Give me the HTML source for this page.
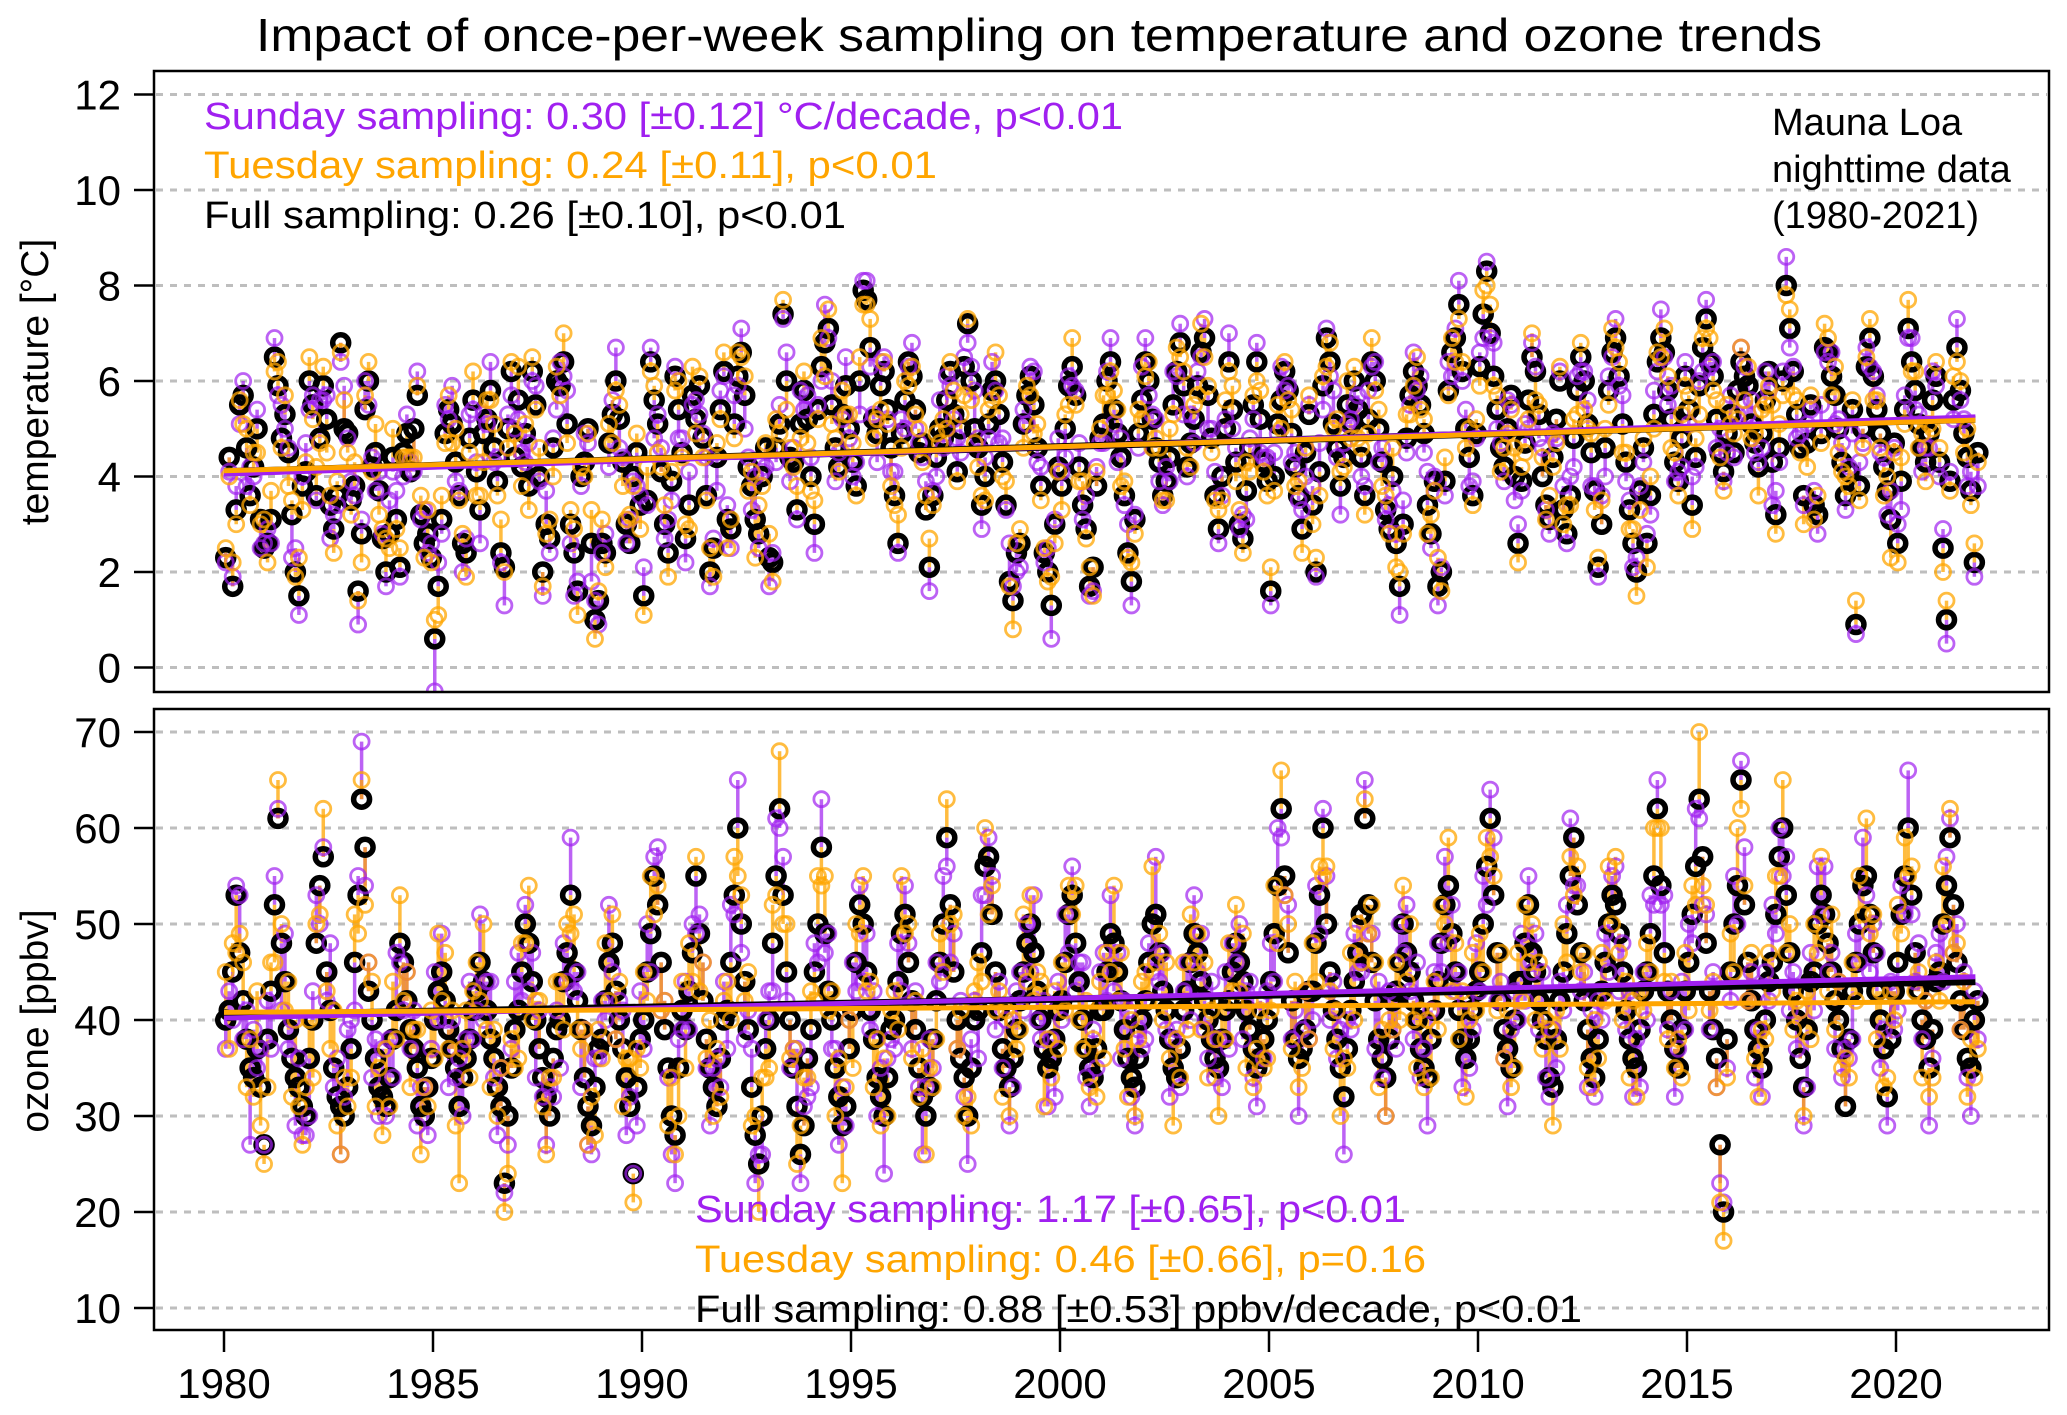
<!DOCTYPE html>
<html><head><meta charset="utf-8"><title>Impact of once-per-week sampling</title>
<style>html,body{margin:0;padding:0;background:#fff}svg{display:block;font-family:"Liberation Sans",Arial,sans-serif}</style>
</head><body>
<svg id="chart" width="2067" height="1415" viewBox="0 0 2067 1415" xmlns="http://www.w3.org/2000/svg">
<defs>
<clipPath id="clipT"><rect x="154" y="71" width="1895" height="621"/></clipPath>
<clipPath id="clipO"><rect x="154" y="709" width="1895" height="621"/></clipPath>
</defs>
<rect width="2067" height="1415" fill="#fff"/>
<text x="1039" y="51" font-size="46" text-anchor="middle" textLength="1566" lengthAdjust="spacingAndGlyphs">Impact of once-per-week sampling on temperature and ozone trends</text>
<g id="gridT"></g>
<g id="gridO"></g>
<g id="marksT" clip-path="url(#clipT)"></g>
<g id="marksO" clip-path="url(#clipO)"></g>
<rect x="154" y="71" width="1895" height="621" fill="none" stroke="#000" stroke-width="2.5"/>
<rect x="154" y="709" width="1895" height="621" fill="none" stroke="#000" stroke-width="2.5"/>
<g id="axes"></g>
<text transform="translate(48,382) rotate(-90)" font-size="39" text-anchor="middle">temperature [°C]</text>
<text transform="translate(48,1021) rotate(-90)" font-size="39" text-anchor="middle">ozone [ppbv]</text>
<g font-size="38">
<text x="204" y="129" fill="#a020f0" textLength="919" lengthAdjust="spacingAndGlyphs">Sunday sampling: 0.30 [±0.12] °C/decade, p&lt;0.01</text>
<text x="204" y="178" fill="#ffa500" textLength="733" lengthAdjust="spacingAndGlyphs">Tuesday sampling: 0.24 [±0.11], p&lt;0.01</text>
<text x="204" y="228" fill="#000" textLength="642" lengthAdjust="spacingAndGlyphs">Full sampling: 0.26 [±0.10], p&lt;0.01</text>
</g>
<g font-size="38">
<text x="1772" y="135">Mauna Loa</text>
<text x="1772" y="182">nighttime data</text>
<text x="1772" y="228">(1980-2021)</text>
</g>
<g font-size="38">
<text x="695" y="1222" fill="#a020f0" textLength="711" lengthAdjust="spacingAndGlyphs">Sunday sampling: 1.17 [±0.65], p&lt;0.01</text>
<text x="695" y="1272" fill="#ffa500" textLength="731" lengthAdjust="spacingAndGlyphs">Tuesday sampling: 0.46 [±0.66], p=0.16</text>
<text x="695" y="1322" fill="#000" textLength="887" lengthAdjust="spacingAndGlyphs">Full sampling: 0.88 [±0.53] ppbv/decade, p&lt;0.01</text>
</g>
</svg>
<script>
const xTicks=[1980,1985,1990,1995,2000,2005,2010,2015,2020];
const tempTicks=[0,2,4,6,8,10,12];
const ozoneTicks=[10,20,30,40,50,60,70];
const startYear=1980;
const tempFull=[
2.3,4.4,1.7,3.3,5.5,5.7,4.6,3.6,4.2,5.0,3.1,2.5,
2.6,3.1,6.5,5.9,4.8,5.3,4.5,3.2,2.0,1.5,3.8,4.1,
6.0,5.5,3.6,4.8,5.9,5.2,3.4,2.9,3.6,6.8,5.0,4.9,
3.5,3.8,1.6,2.8,5.4,6.0,4.2,4.5,3.7,2.7,2.0,2.8,
4.4,3.1,2.1,4.5,4.9,4.1,5.0,5.7,3.2,2.6,2.8,2.3,
0.6,1.7,3.1,4.9,5.4,5.1,4.3,3.6,2.6,2.4,4.8,5.6,
4.1,3.3,4.9,5.2,5.8,4.6,3.9,2.4,2.1,5.0,6.2,4.4,
5.6,4.2,4.9,3.8,6.2,5.5,4.0,2.0,3.0,2.7,4.6,6.0,
5.9,6.4,5.1,3.0,2.4,1.6,4.0,4.3,5.0,2.6,1.0,1.4,
2.6,2.4,4.7,5.3,6.0,5.2,4.3,3.0,2.6,4.0,4.5,3.4,
1.5,3.5,6.4,5.6,5.1,4.1,3.0,2.4,3.9,6.1,5.4,4.5,
2.7,3.4,5.7,5.2,5.9,4.8,3.6,2.0,2.5,4.4,5.4,6.2,
3.1,2.9,5.1,6.1,6.6,5.7,4.2,3.8,3.1,2.8,4.0,4.6,
2.3,2.2,4.6,5.1,7.4,6.0,4.4,4.3,3.3,5.1,5.8,5.2,
4.0,3.0,5.4,6.3,6.8,7.1,5.5,4.6,4.2,5.3,5.9,5.0,
4.3,3.8,6.0,7.9,7.7,6.7,5.2,4.9,5.9,6.2,5.4,4.6,
3.6,2.6,4.9,5.6,6.4,6.1,5.4,4.5,4.7,3.3,2.1,3.6,
4.4,5.0,4.8,5.6,6.2,5.3,4.1,5.0,6.3,7.2,6.0,5.0,
4.6,3.4,4.0,5.1,5.8,6.0,5.3,4.3,3.4,1.8,1.4,2.4,
2.6,5.1,5.7,6.1,5.5,4.6,3.8,2.4,2.0,1.3,3.0,4.2,
3.8,5.0,5.9,6.3,5.7,4.2,3.4,2.9,1.7,2.1,3.8,4.8,
5.1,6.0,6.4,5.4,4.9,4.4,3.6,2.4,1.8,3.1,4.9,5.6,
6.4,6.0,5.2,4.6,4.3,3.6,3.9,4.4,5.5,6.2,6.8,5.9,
4.2,4.7,5.2,5.9,6.6,6.9,5.7,4.8,3.6,2.9,4.0,5.0,
6.4,5.4,4.3,3.0,2.7,3.7,4.6,5.5,6.4,5.2,4.3,3.9,
1.6,4.0,5.1,5.6,6.2,5.8,4.9,4.2,3.6,2.9,4.5,5.3,
3.4,2.0,4.1,5.9,6.9,6.4,5.1,4.6,3.8,4.4,5.5,5.1,
6.0,5.4,4.4,3.6,5.2,6.4,6.0,5.0,4.3,3.3,2.9,4.0,
2.6,1.7,3.0,4.8,5.7,6.2,5.9,5.5,4.9,3.4,2.8,3.9,
1.7,2.0,3.9,5.8,6.6,6.9,7.6,6.2,5.0,4.4,3.6,4.9,
6.3,7.4,8.3,7.0,6.1,5.4,4.6,4.2,5.0,5.7,4.0,2.6,
3.9,4.7,5.6,6.5,6.2,5.3,4.0,3.4,3.1,4.4,5.2,6.0,
3.3,2.8,3.6,4.8,5.8,6.5,6.0,5.1,4.5,3.7,2.1,3.0,
4.6,5.8,6.6,6.9,6.1,5.1,4.3,3.3,2.6,2.0,3.7,4.6,
2.6,3.6,5.3,6.4,6.9,6.6,5.8,5.2,4.3,3.9,4.8,6.1,
5.4,3.4,4.4,5.9,6.7,7.3,6.4,6.1,5.2,4.5,4.1,4.9,
5.3,4.5,5.8,6.4,6.1,5.9,5.1,4.7,4.2,4.9,5.6,6.2,
4.3,3.2,4.6,6.0,8.0,7.1,6.2,5.3,4.6,3.6,4.7,5.5,
3.4,3.2,4.9,6.7,6.6,6.1,5.7,5.0,4.3,3.6,4.1,5.4,
0.9,3.8,5.0,6.3,6.9,6.1,5.4,4.9,4.2,3.7,3.1,4.7,
2.6,3.9,5.4,7.1,6.4,5.8,5.1,4.6,4.3,4.9,5.6,6.1,
4.3,2.5,1.0,3.9,5.6,6.7,5.8,4.9,4.4,3.7,2.2,4.5];
const tempSundayDev=[
-1,-3,2,5,-4,3,-8,6,-2,4,-6,1, 3,-5,4,-2,7,-3,1,-9,5,-4,2,6, -6,2,-1,8,-3,5,-7,3,-2,-4,9,-1,
4,-2,-7,3,6,-5,2,-8,4,1,-3,7, -3,6,-2,-5,4,2,-9,5,-1,7,-4,3, -11,5,-3,6,-2,8,-4,1,-6,3,5,-2,
2,-7,4,-1,6,-3,5,-2,-8,3,-5,6, -4,3,-6,9,-2,4,-1,-5,7,-3,2,-6, 5,-3,7,-4,-9,2,-2,6,-3,-8,4,-5,
-2,4,-5,3,7,-6,1,-4,5,-1,-7,2, 6,-1,3,-8,2,5,-3,7,-4,2,-6,3, -5,7,-2,4,-6,1,8,-3,2,-7,4,-1,
3,-4,6,-2,5,-7,2,-5,9,-3,1,-4, -6,2,-3,4,-1,6,-5,3,-2,7,-4,5, 4,-6,1,-3,8,-2,5,-7,3,-1,6,-2,
-3,5,-7,2,4,-4,1,-6,5,3,-2,-5, 5,-2,3,-6,-1,7,-4,2,-3,6,-5,1, -4,6,-2,5,-3,-1,7,-5,2,-4,3,8,
2,-5,4,-3,6,-2,-6,5,-1,8,3,-4, -5,3,-6,2,7,-3,4,-2,5,-7,1,6, 3,-6,2,-4,1,5,-3,7,-2,-5,4,-1,
-4,2,5,-3,-6,4,-2,6,-5,1,-3,7, 5,-3,1,6,-4,-2,3,-5,7,-1,4,-6, -2,6,-5,3,-1,4,-7,2,5,-3,-4,2,
6,-4,3,-1,5,-6,2,-3,4,-7,1,5, -3,5,-2,7,-4,1,-6,3,-1,4,-5,2, 4,-1,6,-5,2,-3,7,-2,-6,3,-4,1,
-5,3,-4,2,6,-1,4,-7,3,-2,5,-3, 2,-6,5,-3,-2,4,-1,6,-4,7,-3,1, -4,1,-3,6,-5,2,5,-2,4,-6,3,-1,
3,-5,2,-1,7,-4,1,-3,6,-2,-5,4, -2,4,-6,3,1,-5,6,-1,-3,5,-4,2, 5,-2,4,-6,3,-3,2,5,-7,1,-2,6,
-6,3,-1,4,-2,6,-4,2,-5,3,1,-3, 2,-4,5,-2,6,-1,-3,7,-4,2,-6,3, -3,6,-2,1,-5,4,-1,3,-6,5,-2,-4,
4,-1,-5,3,2,-6,5,-2,1,-3,6,-4, -9,5,-3,2,6,-4,1,-5,3,-2,4,-1, 3,-4,6,-1,-2,5,-6,2,4,-3,1,-5,
-2,5,-3,4,-6,1,3,-4,2,-5,6,-1, 4,-6,3,-2,5,-4,2,-5,3,-3,6,-2, -3,4,-5,2,-4,6,-2,3,-6,4,-3,-7];
const tempTuesdayDev=[
2,-4,5,-3,1,-6,4,-2,3,-5,-1,6, -4,6,-3,5,-2,4,-7,3,-1,8,-5,2, 5,-3,6,-1,4,-7,2,-5,3,-2,6,-4,
-3,5,-2,-6,3,4,-1,6,-5,2,7,-3, 6,-2,4,-1,-5,3,-6,2,4,-3,5,-1, 4,-6,5,-2,3,-4,7,-1,2,-5,-3,6,
-5,3,-6,4,-2,5,-3,7,-1,-4,2,5, 7,-4,2,-5,3,-1,6,-3,-2,4,-6,3, -2,6,-4,3,5,-5,2,-3,-1,7,-4,2,
5,-3,4,-6,-2,3,-5,1,6,-2,4,-5, -4,7,-2,3,-6,1,4,-5,2,-3,6,-1, 3,-5,6,-3,2,-4,-1,5,-6,3,-2,4,
-6,2,-3,5,-1,4,-5,3,-8,6,-2,1, 5,-4,6,-2,3,-6,2,-1,5,-3,4,-5, -3,5,-2,6,-7,4,-4,2,-1,5,-6,3,
4,-2,5,-3,-1,6,-4,3,-5,2,-3,-8, -2,6,-3,4,-5,2,-1,5,-4,3,6,-2, 5,-3,4,-6,2,5,-2,3,-6,1,-4,-3,
-4,2,-5,3,-2,6,4,-3,5,-1,-6,2, 3,-5,2,-4,-6,5,-3,1,-2,6,-4,-1, -5,3,-4,6,-2,-3,5,-2,4,-6,3,2,
6,-3,-2,4,5,-6,3,-1,4,-3,5,-4, -3,4,-6,2,3,-1,-4,6,-2,5,-3,3, 4,-5,3,-2,6,-4,2,-3,-1,4,-5,6,
-2,5,-4,3,-3,6,-5,2,-4,6,-2,-3, 5,-3,4,-6,2,-2,5,-4,3,-5,1,4, -4,3,-5,2,-6,4,-1,6,3,-2,5,-3,
3,-6,2,-4,-3,5,-2,4,-5,3,-1,6, -5,3,-2,5,-4,-3,6,-1,3,-6,4,-2, 6,-4,5,-1,3,-5,-3,2,-4,6,-2,3,
-4,5,-3,6,-2,3,-5,4,-1,-3,6,-4, 3,-2,-4,5,-6,2,4,-3,5,-2,-5,3, -3,6,-2,4,-5,3,-6,-1,4,-4,2,5,
4,-3,5,-2,3,-6,2,-4,3,-5,-4,2, -5,4,-3,2,-4,5,3,-6,2,-3,5,-2, 3,-5,4,-6,2,-2,5,-3,4,-1,-4,6,
-2,4,-6,3,-5,4,-3,2,-6,5,-1,-3, 12,-4,5,-3,-2,4,-5,3,-1,-6,-5,2, -3,4,-2,5,3,-4,6,-5,-2,4,-3,2,
5,-3,-4,2,4,-5,2,-3,-6,3,-8,-2, -4,5,-3,6,-2,4,-5,3,-4,2,-6,3, 3,-5,4,-2,5,-3,2,-4,6,-3,4,-2];
const ozoneFull=[
40,41,45,53,47,42,38,35,34,37,33,27, 38,43,52,61,48,44,39,36,34,33,31,30, 36,40,48,54,57,45,41,35,32,31,30,33,
37,46,53,63,58,43,40,36,33,32,31,34, 38,41,48,46,42,39,37,35,31,30,33,36, 40,43,45,42,39,37,35,31,34,36,38,41,
43,46,44,41,38,36,33,31,23,30,35,39, 41,45,50,48,44,40,37,34,32,30,36,39, 40,44,47,53,45,42,39,34,31,29,33,37,
38,42,46,48,43,40,37,34,31,24,33,38, 40,45,49,55,52,46,39,35,30,28,35,41, 39,43,47,55,49,42,38,35,33,31,36,40,
41,46,53,60,50,44,39,33,28,25,30,37, 40,48,55,62,53,45,40,35,31,26,29,36, 39,45,50,58,49,43,40,35,32,29,31,37,
41,46,52,50,45,41,38,34,32,30,34,39, 40,44,49,51,46,42,39,35,32,30,33,38, 42,46,50,59,52,45,40,36,34,30,35,40,
41,47,56,57,51,45,41,37,35,33,36,39, 42,45,48,50,47,43,40,37,35,36,38,41, 42,46,51,53,48,44,40,37,35,34,37,41,
41,45,49,48,45,42,39,36,34,33,36,40, 42,46,50,51,47,43,41,38,35,34,37,41, 43,46,49,47,44,42,40,38,36,35,38,41,
42,45,48,46,44,41,39,37,35,36,38,40, 44,49,54,62,55,47,42,38,36,37,39,43, 43,48,53,60,50,45,41,38,35,32,37,41,
44,47,51,61,52,46,42,38,36,34,38,42, 43,46,50,47,45,42,40,37,35,34,38,41, 44,48,52,54,49,45,41,38,36,38,41,43,
45,50,56,61,53,47,42,39,37,35,40,44, 44,48,52,47,45,42,40,38,34,33,38,42, 45,49,55,59,52,47,42,39,36,34,38,43,
46,50,53,52,49,45,41,38,36,35,39,43, 45,49,55,62,54,47,43,40,37,35,39,43, 46,51,56,63,57,48,43,39,36,27,20,38,
45,50,54,65,52,46,42,39,37,35,40,44, 46,51,57,60,53,47,43,40,36,33,39,44, 45,50,53,51,48,45,42,40,37,31,38,43,
46,50,54,55,51,47,43,40,37,32,38,43, 46,51,55,60,53,47,43,40,38,35,39,44, 45,50,54,59,52,46,42,39,36,35,40,42];
const ozoneSundayDev=[
-3,2,-5,1,6,-4,3,-8,5,-2,4,0, 4,-6,3,1,-7,5,-2,4,-5,3,-3,-2, -6,3,5,-4,1,-3,7,-2,4,-5,2,6,
3,-5,2,6,-4,3,-6,2,-3,5,-1,4, -4,6,-2,-5,3,-2,4,-6,2,3,-5,1, 5,-3,4,-2,-6,3,-1,5,-4,2,6,-3,
-2,5,-4,3,6,-2,-5,4,-1,-3,2,5, 6,-3,2,-5,3,-6,4,-2,-5,3,-4,2, -5,4,-3,6,-2,3,-6,5,-4,-3,3,-1,
4,-2,6,-3,-5,2,4,-6,1,0,-4,5, -3,5,-4,2,6,-5,3,-1,-4,-5,3,-2, 5,-4,3,-6,2,4,-3,-6,2,5,-3,4,
-4,6,-2,5,-3,-6,2,4,-5,1,-4,3, 3,-5,6,-2,4,-3,-5,2,6,-3,2,-4, -6,3,-4,5,-2,6,-3,2,-5,4,-2,3,
5,-3,2,-6,4,-2,5,-4,3,-6,2,-1, -3,4,-6,3,2,-5,4,-2,-6,3,5,-3, 4,-2,5,-3,-6,4,-3,6,-2,-5,3,2,
-5,6,-3,2,4,-6,3,-2,5,-4,-3,4, 3,-4,2,-5,6,-3,-2,5,-4,2,-6,3, -2,5,-4,3,-5,2,6,-3,-4,5,-2,4,
6,-3,4,-5,2,-6,3,5,-2,-4,3,-3, -4,2,-5,6,-3,4,-2,-6,3,5,-4,2, 3,-6,4,-2,5,-3,-4,6,-2,3,-5,4,
-5,3,-2,4,-6,2,5,-3,-4,6,-2,3, 4,-5,6,-3,-2,5,-4,3,-6,2,4,-5, -3,6,-4,2,5,-5,3,-2,4,-6,3,-2,
5,-2,-6,4,-3,3,-5,6,-2,-4,5,-3, -6,4,-3,5,-2,-4,6,-3,2,-5,3,4, 4,-3,5,-6,3,-2,4,-5,6,-3,-2,5,
-2,5,-4,3,6,-5,2,-3,-6,4,3,-4, 5,-6,3,-2,4,-3,5,-4,-2,6,-3,2, -4,3,6,-5,2,-4,3,-6,5,-2,4,-3,
3,-5,2,4,-6,3,-2,5,-4,3,-6,2, -5,4,-3,3,-2,6,-4,3,-5,2,5,-4, 4,-3,6,-2,-5,3,-4,6,-3,-4,1,-3,
-3,5,-4,2,6,-4,3,-5,2,-3,5,-2, 6,-2,3,-5,4,-6,2,-3,5,-4,-6,3, -4,6,-2,5,-3,2,-5,4,-3,6,-2,-5,
3,-4,5,-2,-6,3,4,-5,2,-3,6,-4, -5,3,-4,6,-2,-3,5,-2,4,-6,-3,3, 4,-6,3,2,-5,4,-3,6,-2,-5,3,-4];
const ozoneTuesdayDev=[
5,-4,3,-6,2,4,-5,3,-2,6,-4,-2, -5,3,-6,4,2,-3,5,-4,6,-2,-4,3, 4,-6,2,-3,5,-2,-4,6,-3,-5,4,-2,
-3,5,-4,2,-6,3,4,-5,2,-4,6,-3, 6,-3,5,-4,3,-6,2,4,-5,3,-2,5, -4,6,-3,5,-2,4,-6,-8,3,5,-4,2,
3,-4,6,-2,-5,3,-3,4,-3,-6,3,-4, -5,3,-2,6,-4,2,5,-3,-6,4,-2,5, 4,-5,3,-4,6,-3,-2,5,-4,3,-5,2,
-2,6,-4,3,-5,4,-6,2,5,-3,4,-3, 5,-3,6,-4,2,-5,3,-6,4,-2,-5,3, -4,5,-3,2,-6,4,-2,5,-3,6,-4,2,
3,-6,4,-5,3,-2,6,-4,2,-5,4,-3, -5,4,-2,6,-3,5,-4,2,-6,3,5,-2, 4,-3,5,-4,6,-2,3,-5,4,-6,2,3,
-6,4,-3,5,-2,3,-5,4,-3,6,-4,2, 3,-5,6,-2,4,-6,3,-3,5,-4,2,-5, -4,3,-5,4,-2,6,-3,5,-4,2,-6,3,
5,-3,4,-6,3,-4,2,-5,6,-3,4,-2, -3,6,-4,3,-5,2,4,-6,3,-2,5,-4, 4,-5,3,-2,6,-4,-3,5,-2,4,-5,3,
-5,2,-4,6,-3,5,-2,-4,6,-3,2,4, 3,-4,6,-5,2,-3,5,-2,-6,4,-3,5, -4,5,-3,2,-5,4,-6,3,2,-5,4,-3,
6,-2,4,-3,5,-6,3,-4,2,5,-3,-4, -3,5,-6,4,-2,3,-5,6,-3,-2,4,-5, 5,-4,3,-5,6,-2,-4,3,-5,4,-2,6,
-4,3,-5,2,-3,6,4,-5,3,-4,2,-3, 3,-6,4,-3,5,-2,-5,4,-2,6,-4,3, -5,4,-2,5,-6,3,-3,5,-4,2,6,-2,
4,-5,3,-4,2,-6,5,-3,4,-2,-5,3, -2,4,-6,3,-5,4,-3,2,5,-4,3,-5, 5,-3,2,-6,4,-2,5,-4,-3,6,-2,4,
-4,6,-3,5,-2,-5,3,-4,6,-3,4,-2, 3,-4,5,-2,6,-3,-5,4,-2,3,-5,4, -5,3,-4,7,-3,4,-2,5,-3,-6,-3,-4,
4,-5,6,-3,2,-4,5,-3,-5,4,-2,3, -3,4,-2,5,-6,3,-4,2,5,-3,4,-6, 5,-3,4,-2,-5,6,-3,4,-2,5,-4,3,
-4,5,-3,6,-2,4,-5,3,-4,2,5,-3, 6,-2,4,-5,3,-4,2,-6,4,-3,-5,2, -3,6,-4,3,-5,2,-3,5,-4,3,-6,-5];
const trendYears=[1980,2021.9];
const tempTrendSunday=[4.05,5.25];
const tempTrendTuesday=[4.12,5.18];
const tempTrendFull=[4.10,5.20];
const ozoneTrendSunday=[40.2,44.5];
const ozoneTrendTuesday=[40.8,41.9];
const ozoneTrendFull=[40.5,44.0];

const NS='http://www.w3.org/2000/svg';
function xS(t){return 224+(t-1980)*41.8;}
function yT(v){return 667.5-v*47.75;}
function yO(v){return 1116-(v-30)*9.6;}
function mk(tag,parent,attrs){const e=document.createElementNS(NS,tag);for(const k in attrs)e.setAttribute(k,attrs[k]);parent.appendChild(e);return e;}
const axes=document.getElementById('axes');
function gridAndTicks(ticks,yf,grid,nm){
  ticks.forEach(v=>{
    const y=yf(v);
    const g=mk('line',grid,{x1:156,x2:2047,y1:y,y2:y,stroke:'#bebebe','stroke-width':3,'stroke-dasharray':'7 7'});
    
    
    const tk=mk('line',axes,{x1:134,x2:154,y1:y,y2:y,stroke:'#000','stroke-width':2.5});
    
    
    const tx=mk('text',axes,{x:121,y:y+15,'font-size':42,'text-anchor':'end'});
    tx.textContent=v;
    
    
  });
}
gridAndTicks(tempTicks,yT,document.getElementById('gridT'),'temperature-y');
gridAndTicks(ozoneTicks,yO,document.getElementById('gridO'),'ozone-y');
xTicks.forEach(v=>{
  const x=xS(v);
  const tk=mk('line',axes,{x1:x,x2:x,y1:1330,y2:1352,stroke:'#000','stroke-width':2.5});
  
  
  const tx=mk('text',axes,{x:x,y:1398,'font-size':42,'text-anchor':'middle'});
  tx.textContent=v;
  
  
});
function drawSeries(gid,full,sunDev,tueDev,scale,yf,trS,trU,trF){
  const g=document.getElementById(gid);
  const segs=mk('g',g,{}),blk=mk('g',g,{}),pur=mk('g',g,{}),org=mk('g',g,{}),tr=mk('g',g,{});
  full.forEach((v,i)=>{
    const t=startYear+Math.floor(i/12)+((i%12)+0.5)/12;
    const ds=sunDev[i]||0, du=tueDev[i]||0;
    const x=xS(t),yb=yf(v),ys=yf(v+ds*scale),yu=yf(v+du*scale);
    const l1=mk('line',segs,{x1:x,x2:x,y1:yb,y2:ys,stroke:'#a020f0','stroke-opacity':0.7,'stroke-width':3.5});
    
    
    const l2=mk('line',segs,{x1:x,x2:x,y1:yb,y2:yu,stroke:'#ffa500','stroke-opacity':0.75,'stroke-width':3.5});
    
    
    const c0=mk('circle',blk,{cx:x,cy:yb,r:8,fill:'none',stroke:'#000','stroke-width':5.5});
    
    
    const c1=mk('circle',pur,{cx:x,cy:ys,r:7.5,fill:'none',stroke:'#a020f0','stroke-opacity':0.7,'stroke-width':2.8});
    
    
    const c2=mk('circle',org,{cx:x,cy:yu,r:7.5,fill:'none',stroke:'#ffa500','stroke-opacity':0.75,'stroke-width':2.8});
    
    
  });
  [[trF,'#000',7,'full-trend-line'],[trS,'#a020f0',5,'sunday-trend-line'],[trU,'#ffa500',5,'tuesday-trend-line']].forEach(a=>{
    const l=mk('line',tr,{x1:xS(trendYears[0]),x2:xS(trendYears[1]),y1:yf(a[0][0]),y2:yf(a[0][1]),stroke:a[1],'stroke-width':a[2]});
    
    
  });
}
drawSeries('marksT',tempFull,tempSundayDev,tempTuesdayDev,0.1,yT,tempTrendSunday,tempTrendTuesday,tempTrendFull);
drawSeries('marksO',ozoneFull,ozoneSundayDev,ozoneTuesdayDev,1,yO,ozoneTrendSunday,ozoneTrendTuesday,ozoneTrendFull);
</script>
</body></html>
